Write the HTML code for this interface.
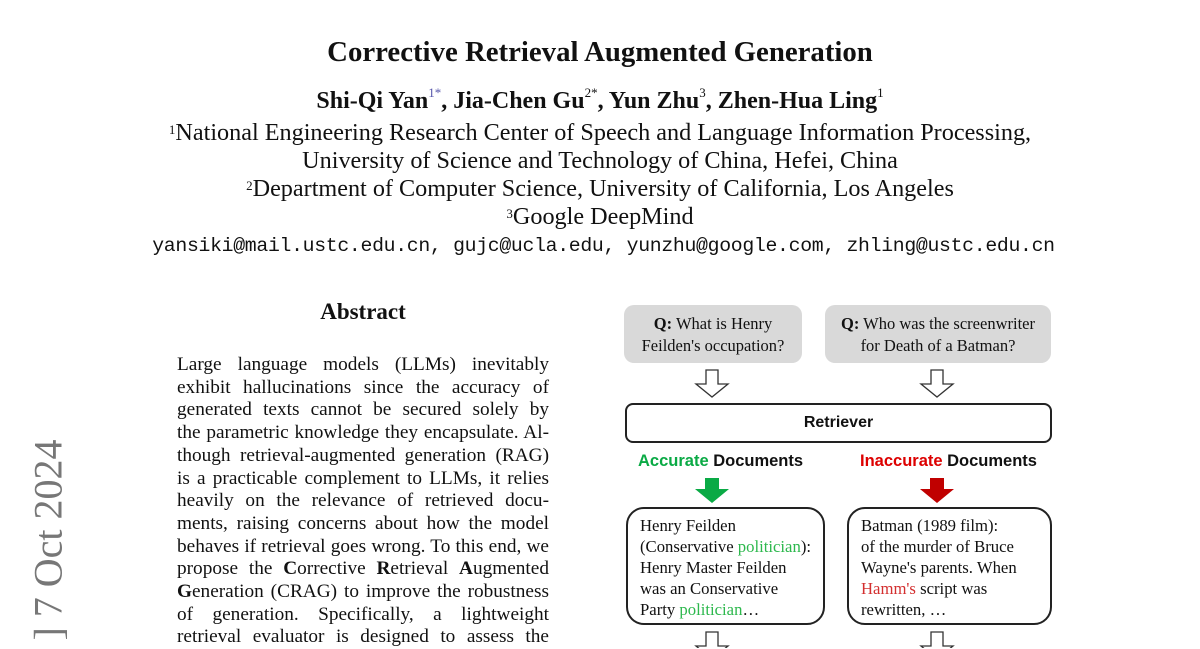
<!DOCTYPE html>
<html><head><meta charset="utf-8"><style>
body{margin:0;width:1200px;height:648px;overflow:hidden;background:#fff;position:relative;font-family:"Liberation Serif",serif;color:#111}
.a{position:absolute}
.c{text-align:center}
.aff{position:absolute;left:0;width:1200px;text-align:center;font-size:24.2px;line-height:28px}
sup{font-size:13px;vertical-align:top;position:relative;top:-3px}
.body{position:absolute;left:177px;top:354px;width:372px;font-size:19.3px;line-height:22.7px;text-align:justify}
.body span{display:block;text-align-last:justify;white-space:nowrap}
.q{position:absolute;background:#d9d9d9;border-radius:10px;font-size:16.5px;line-height:22px;text-align:center;padding-top:8px;box-sizing:border-box}
.doc{position:absolute;border:2px solid #222;border-radius:18px;font-size:16.7px;line-height:21px;padding:6px 0 0 12px;box-sizing:border-box;white-space:nowrap}
.sans{font-family:"Liberation Sans",sans-serif;font-weight:bold}
.g{color:#2db84d}.r{color:#d32f2f}
</style></head><body>
<div class="a c" style="left:0;width:1200px;top:36px;font-size:28.8px;font-weight:bold">Corrective Retrieval Augmented Generation</div>
<div class="a c" style="left:0;width:1200px;top:88px;font-size:24px;font-weight:bold">Shi-Qi Yan<sup style="font-weight:normal;color:#55a">1*</sup>, Jia-Chen Gu<sup style="font-weight:normal">2*</sup>, Yun Zhu<sup style="font-weight:normal">3</sup>, Zhen-Hua Ling<sup style="font-weight:normal">1</sup></div>
<div class="aff" style="top:119px"><sup>1</sup>National Engineering Research Center of Speech and Language Information Processing,</div>
<div class="aff" style="top:147px">University of Science and Technology of China, Hefei, China</div>
<div class="aff" style="top:175px"><sup>2</sup>Department of Computer Science, University of California, Los Angeles</div>
<div class="aff" style="top:203px"><sup>3</sup>Google DeepMind</div>
<div class="a c" style="left:0;width:1207px;top:235px;font-family:'Liberation Mono',monospace;font-size:19.8px;letter-spacing:-0.3px">yansiki@mail.ustc.edu.cn, gujc@ucla.edu, yunzhu@google.com, zhling@ustc.edu.cn</div>
<div class="a c" style="left:263px;width:200px;top:299px;font-size:23px;font-weight:bold">Abstract</div>
<div class="body">
<span>Large language models (LLMs) inevitably</span>
<span>exhibit hallucinations since the accuracy of</span>
<span>generated texts cannot be secured solely by</span>
<span>the parametric knowledge they encapsulate. Al-</span>
<span>though retrieval-augmented generation (RAG)</span>
<span>is a practicable complement to LLMs, it relies</span>
<span>heavily on the relevance of retrieved docu-</span>
<span>ments, raising concerns about how the model</span>
<span>behaves if retrieval goes wrong. To this end, we</span>
<span>propose the <b>C</b>orrective <b>R</b>etrieval <b>A</b>ugmented</span>
<span><b>G</b>eneration (CRAG) to improve the robustness</span>
<span>of generation. Specifically, a lightweight</span>
<span>retrieval evaluator is designed to assess the</span>
</div>
<div class="a" style="left:48px;top:540px;transform:translate(-50%,-50%) rotate(-90deg);font-size:40px;color:#777;white-space:nowrap">] 7 Oct 2024</div>

<div class="q" style="left:624px;top:305px;width:178px;height:58px"><b>Q:</b> What is Henry<br>Feilden's occupation?</div>
<div class="q" style="left:825px;top:305px;width:226px;height:58px"><b>Q:</b> Who was the screenwriter<br>for Death of a Batman?</div>
<svg class="a" style="left:0;top:0" width="1200" height="648">
<g fill="#fff" stroke="#333" stroke-width="1.3">
<path d="M706 370h12v14h10l-16 13l-16-13h10z"/>
<path d="M931 370h12v14h10l-16 13l-16-13h10z"/>
<path d="M706 632h12v14h10l-16 13l-16-13h10z"/>
<path d="M931 632h12v14h10l-16 13l-16-13h10z"/>
</g>
<path d="M705 478h14v11h10l-17 14l-17-14h10z" fill="#0aaa45"/>
<path d="M930 478h14v11h10l-17 14l-17-14h10z" fill="#c00000"/>
</svg>
<div class="a sans c" style="left:625px;top:403px;width:427px;height:40px;border:2px solid #222;border-radius:8px;box-sizing:border-box;font-size:16px;line-height:36px">Retriever</div>
<div class="a sans" style="left:638px;top:452px;font-size:16.5px"><span style="color:#0aaa45">Accurate</span> Documents</div>
<div class="a sans" style="left:860px;top:452px;font-size:16.5px"><span style="color:#d00">Inaccurate</span> Documents</div>
<div class="doc" style="left:626px;top:507px;width:199px;height:118px">Henry Feilden<br>(Conservative <span class="g">politician</span>):<br>Henry Master Feilden<br>was an Conservative<br>Party <span class="g">politician</span>…</div>
<div class="doc" style="left:847px;top:507px;width:205px;height:118px">Batman (1989 film):<br>of the murder of Bruce<br>Wayne's parents. When<br><span class="r">Hamm's</span> script was<br>rewritten, …</div>
</body></html>
